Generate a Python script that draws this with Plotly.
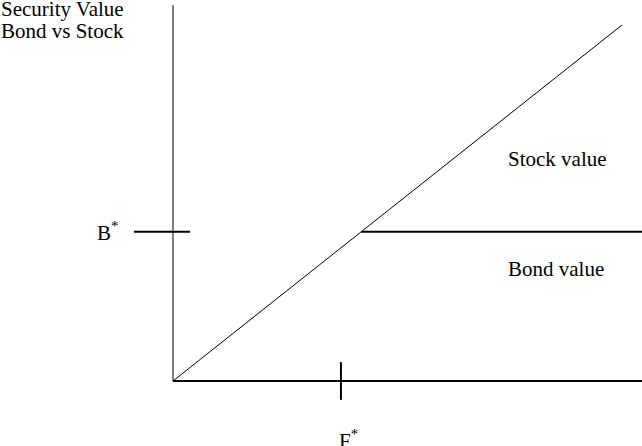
import plotly.graph_objects as go

# ---- data (conceptual units: firm value F on x, security value on y) ----
firm_max = 100.0          # end of the stock-value diagonal
stock_slope = 1.0         # stock value = F (below B*) diagonal
bond_level = 41.9         # B*
f_star = 37.4             # F*
x_axis_end = 104.45
y_axis_end = 105.6

labels = {
    "title1": "Security Value",
    "title2": "Bond vs Stock",
    "stock": "Stock value",
    "bond": "Bond value",
    "b": "B<sup>*</sup>",
    "f": "F<sup>*</sup>",
}

# ---- layout constants ----
W, H = 642, 446
X_RANGE = [-38.53, 104.45]
Y_RANGE = [-18.26, 107.02]
FONT = "Liberation Serif, Times New Roman, serif"
BLACK = "#000000"

fig = go.Figure()

def line(xs, ys, w):
    fig.add_trace(go.Scatter(x=xs, y=ys, mode="lines",
                             line=dict(color=BLACK, width=w),
                             hoverinfo="skip", showlegend=False))

# vertical axis
line([0, 0], [0, y_axis_end], 1)
# horizontal axis
line([0, x_axis_end], [0, 0], 2)
# stock diagonal
line([0, firm_max], [0, firm_max * stock_slope], 1)
# bond value horizontal, starting where diagonal reaches B*
line([bond_level / stock_slope, x_axis_end], [bond_level, bond_level], 2)
# B* tick
line([-8.7, 3.8], [bond_level, bond_level], 2)
# F* tick
line([f_star, f_star], [5.3, -5.3], 2)

def px(x):
    return x / W

def py(y):
    return 1 - y / H

anns = [
    (labels["title1"], 0, 9),
    (labels["title2"], 0, 31),
    (labels["stock"], 507, 159),
    (labels["bond"], 507, 269),
    (labels["b"], 96, 231),
    (labels["f"], 338, 439),
]
for text, x, y in anns:
    fig.add_annotation(text=text, xref="paper", yref="paper",
                       x=px(x), y=py(y), xanchor="left", yanchor="middle",
                       showarrow=False, borderpad=0,
                       font=dict(family=FONT, size=21, color=BLACK))

fig.update_layout(
    width=W, height=H, autosize=False,
    margin=dict(l=0, r=0, t=0, b=0, pad=0),
    paper_bgcolor="white", plot_bgcolor="white",
    xaxis=dict(range=X_RANGE, visible=False, fixedrange=True),
    yaxis=dict(range=Y_RANGE, visible=False, fixedrange=True),
    showlegend=False,
)

fig.write_html(
    "out.html",
    config={"displayModeBar": False},
    post_script="document.body.style.margin='0';document.body.style.overflow='hidden';",
)
